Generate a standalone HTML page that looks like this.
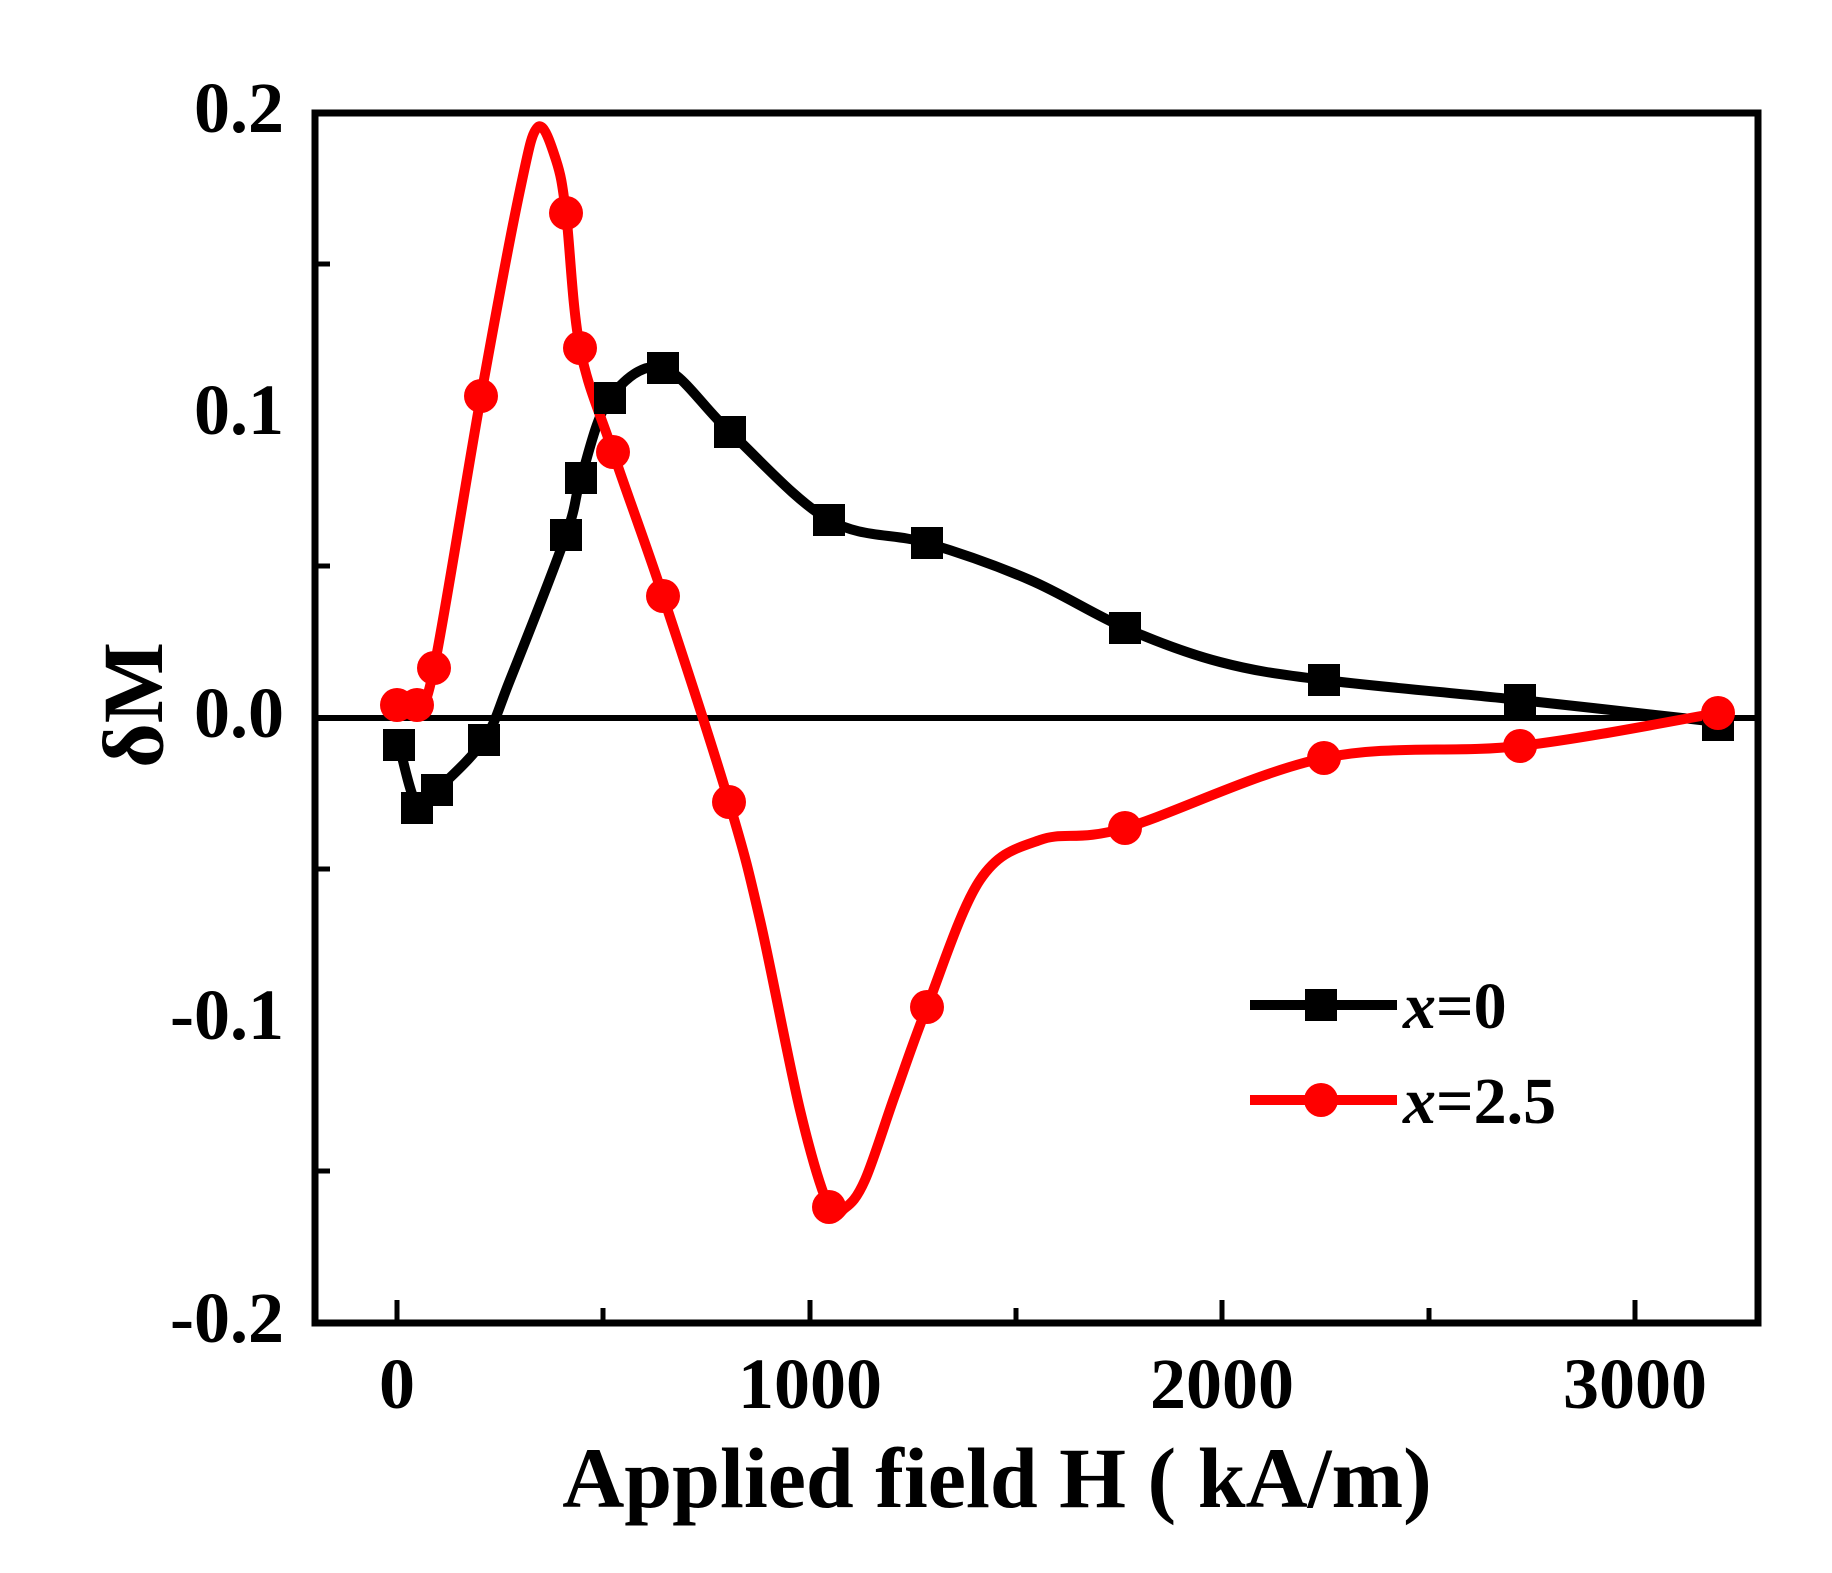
<!DOCTYPE html>
<html><head><meta charset="utf-8"><style>
html,body{margin:0;padding:0;background:#fff;}
svg{display:block;}
text{font-family:"Liberation Serif",serif;font-weight:bold;fill:#000;}
</style></head><body>
<svg id="s" width="1832" height="1573" viewBox="0 0 1832 1573" xmlns="http://www.w3.org/2000/svg">
<rect x="0" y="0" width="1832" height="1573" fill="#fff"/>
<line x1="315" y1="718" x2="1758" y2="718" stroke="#000" stroke-width="6"/>
<g stroke="#000" stroke-width="5">
<line x1="315" y1="264" x2="330" y2="264"/><line x1="315" y1="566" x2="330" y2="566"/>
<line x1="315" y1="869" x2="330" y2="869"/><line x1="315" y1="1171" x2="330" y2="1171"/>
<line x1="397" y1="1323" x2="397" y2="1300"/><line x1="810" y1="1323" x2="810" y2="1300"/>
<line x1="1222" y1="1323" x2="1222" y2="1300"/><line x1="1635" y1="1323" x2="1635" y2="1300"/>
<line x1="603" y1="1323" x2="603" y2="1308"/><line x1="1016" y1="1323" x2="1016" y2="1308"/>
<line x1="1429" y1="1323" x2="1429" y2="1308"/>
</g>
<path id="bk" fill="none" stroke="#000" stroke-width="10" stroke-linejoin="round"/>
<path id="rd" fill="none" stroke="#f00" stroke-width="10" stroke-linejoin="round"/>
<g id="bm"></g><g id="rm"></g>
<rect x="315" y="113" width="1443" height="1210" fill="none" stroke="#000" stroke-width="7"/>
<g font-size="72" text-anchor="end">
<text x="284" y="132">0.2</text>
<text x="284" y="434">0.1</text>
<text x="284" y="737">0.0</text>
<text x="284" y="1039">-0.1</text>
<text x="284" y="1342">-0.2</text>
</g>
<g font-size="72" text-anchor="middle">
<text x="397" y="1408">0</text>
<text x="810" y="1408">1000</text>
<text x="1222" y="1408">2000</text>
<text x="1635" y="1408">3000</text>
</g>
<text x="997" y="1507" font-size="86" text-anchor="middle">Applied field H ( kA/m)</text>
<text transform="translate(162,705) rotate(-90)" font-size="86" text-anchor="middle">δM</text>
<line x1="1250" y1="1005" x2="1397" y2="1005" stroke="#000" stroke-width="10"/>
<rect x="1305" y="989" width="32" height="32" fill="#000"/>
<text x="1403" y="1028" font-size="66"><tspan font-style="italic">x</tspan>=0</text>
<line x1="1250" y1="1100" x2="1397" y2="1100" stroke="#f00" stroke-width="10"/>
<circle cx="1321" cy="1100" r="17" fill="#f00"/>
<text x="1403" y="1123" font-size="66"><tspan font-style="italic">x</tspan>=2.5</text>
</svg>
<script>
function cr(p){var d="M"+p[0][0]+","+p[0][1];for(var i=0;i<p.length-1;i++){var a=p[i-1]||p[i],b=p[i],c=p[i+1],e=p[i+2]||c;
d+=" C"+(b[0]+(c[0]-a[0])/6)+","+(b[1]+(c[1]-a[1])/6)+" "+(c[0]-(e[0]-b[0])/6)+","+(c[1]-(e[1]-b[1])/6)+" "+c[0]+","+c[1];}return d;}
var B=[[399,745],[417,808],[437,790],[484,740],[566,535],[581,478],[610,398],[663,368],[730,432],[829,520],[927,543],[1125,628],[1324,680],[1520,700],[1718,725]];
var Bc=[[399,745],[417,805],[437,790],[484,740],[510,680],[566,535],[581,478],[610,398],[663,368],[730,432],[829,520],[927,543],[1030,580],[1125,628],[1220,662],[1324,680],[1520,700],[1718,722]];
var R=[[397,705],[417,705],[434,668],[481,396],[566,213],[580,348],[613,452],[663,596],[729,802],[829,1207],[927,1007],[1125,828],[1324,758],[1520,746],[1718,713]];
var Rc=[[397,705],[417,705],[434,668],[481,396],[520,190],[538,127],[556,160],[566,213],[580,348],[613,452],[663,596],[729,802],[760,920],[800,1110],[829,1207],[845,1208],[865,1180],[895,1095],[927,1007],[980,880],[1040,840],[1125,828],[1324,758],[1520,746],[1718,713]];
document.getElementById("bk").setAttribute("d",cr(Bc));
document.getElementById("rd").setAttribute("d",cr(Rc));
var ns="http://www.w3.org/2000/svg",g=document.getElementById("bm");
B.forEach(function(p){var r=document.createElementNS(ns,"rect");r.setAttribute("x",p[0]-16);r.setAttribute("y",p[1]-16);r.setAttribute("width",32);r.setAttribute("height",32);r.setAttribute("fill","#000");g.appendChild(r);});
g=document.getElementById("rm");
R.forEach(function(p){var c=document.createElementNS(ns,"circle");c.setAttribute("cx",p[0]);c.setAttribute("cy",p[1]);c.setAttribute("r",17);c.setAttribute("fill","#f00");g.appendChild(c);});
</script>
</body></html>
